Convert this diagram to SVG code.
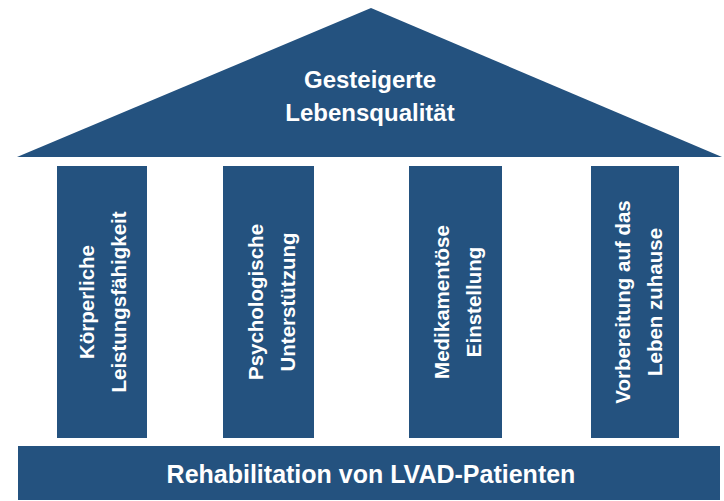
<svg xmlns="http://www.w3.org/2000/svg" width="724" height="501" viewBox="0 0 724 501">
<style>
.f{fill:#24527f}
.t{fill:#ffffff;font-family:"Liberation Sans",Arial,sans-serif;font-weight:bold;text-anchor:middle}
.r{font-size:24px}
.p{font-size:20.5px}
</style>
<rect width="724" height="501" fill="#ffffff"/>
<g id="roof">
<polygon class="f" points="371,8 722,157 17,157"/>
<text class="t r" x="370" y="88">Gesteigerte</text>
<text class="t r" x="370" y="121">Lebensqualität</text>
</g>
<g id="pillar1">
<rect class="f" x="57" y="166" width="90" height="272"/>
<g transform="translate(94,302) rotate(-90)">
<text class="t p" x="0" y="0">Körperliche</text>
<text class="t p" x="0" y="32">Leistungsfähigkeit</text>
</g>
</g>
<g id="pillar2">
<rect class="f" x="223" y="166" width="91" height="272"/>
<g transform="translate(263,302) rotate(-90)">
<text class="t p" x="0" y="0">Psychologische</text>
<text class="t p" x="0" y="32">Unterstützung</text>
</g>
</g>
<g id="pillar3">
<rect class="f" x="409" y="166" width="93" height="272"/>
<g transform="translate(449,302) rotate(-90)">
<text class="t p" x="0" y="0">Medikamentöse</text>
<text class="t p" x="0" y="32">Einstellung</text>
</g>
</g>
<g id="pillar4">
<rect class="f" x="591" y="166" width="88" height="272"/>
<g transform="translate(630,302) rotate(-90)">
<text class="t p" x="0" y="0">Vorbereitung auf das</text>
<text class="t p" x="0" y="32">Leben zuhause</text>
</g>
</g>
<g id="base">
<rect class="f" x="18" y="446" width="702" height="54"/>
<text class="t" font-size="25" x="371" y="483">Rehabilitation von LVAD-Patienten</text>
</g>
<g id="connectors"/>
</svg>
